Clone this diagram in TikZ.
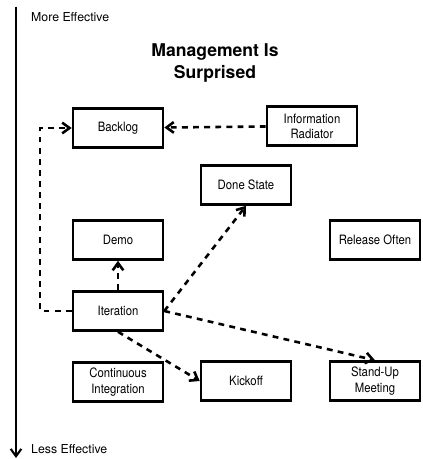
\documentclass[tikz,border=0pt]{standalone}
\usepackage{fontspec}
\setmainfont{TeX Gyre Heros}
\newfontfamily\narrowfont[FakeStretch=0.88]{TeX Gyre Heros}
\usetikzlibrary{arrows.meta}

\begin{document}
\begin{tikzpicture}[line width=2.2pt,
    practice/.style={draw, minimum width=2.7cm, minimum height=1.17cm,
      align=center, font=\narrowfont\fontsize{11}{13}\selectfont},
    link/.style={dash pattern=on 5pt off 4.5pt, -{Straight Barb[length=2.2mm,width=3.2mm]}}]
    \useasboundingbox (0,0) rectangle (12.66,-13.77);
    \coordinate (top)    at (0.48,-0.2);
    \coordinate (bottom) at (0.48,-13.74);
    \draw [line width=1.8pt, -{Straight Barb[length=2.2mm,width=3.2mm]}] (top) -- (bottom);
    \node [anchor=west, font=\fontsize{10.5}{12}\selectfont] (more) at (0.78,-0.51)  {More Effective};
    \node [anchor=west, font=\fontsize{10.5}{12}\selectfont] (less) at (0.78,-13.47) {Less Effective};
    \node [align=center, font=\bfseries\fontsize{15}{19.5}\selectfont] (title) at (6.45,-1.89) {Management Is\\Surprised};
    \node [practice] (backlog)  at (3.54,-3.84)  {Backlog};
    \node [practice] (radiator) at (9.36,-3.78)  {Information\\Radiator};
    \node [practice] (done)     at (7.38,-5.55)  {Done State};
    \node [practice] (release)  at (11.25,-7.2)  {Release Often};
    \node [practice] (demo)     at (3.54,-7.2)   {Demo};
    \node [practice] (iter)     at (3.54,-9.33)  {Iteration};
    \node [practice] (ci)       at (3.54,-11.46) {Continuous\\Integration};
    \node [practice] (kickoff)  at (7.38,-11.43) {Kickoff};
    \node [practice] (standup)  at (11.25,-11.43) {Stand-Up\\Meeting};
    \coordinate (bend) at (1.2,-9.33);
    \draw [link] (radiator) -- (backlog);
    \draw [link] (iter.west) -- (bend) |- (backlog.west);
    \draw [link] (iter) -- (demo);
    \draw [link] (iter.east) -- (done.south);
    \draw [link] (iter.east) -- (standup.north);
    \draw [link] (iter.south) -- (kickoff.west);
  \end{tikzpicture}
\end{document}
